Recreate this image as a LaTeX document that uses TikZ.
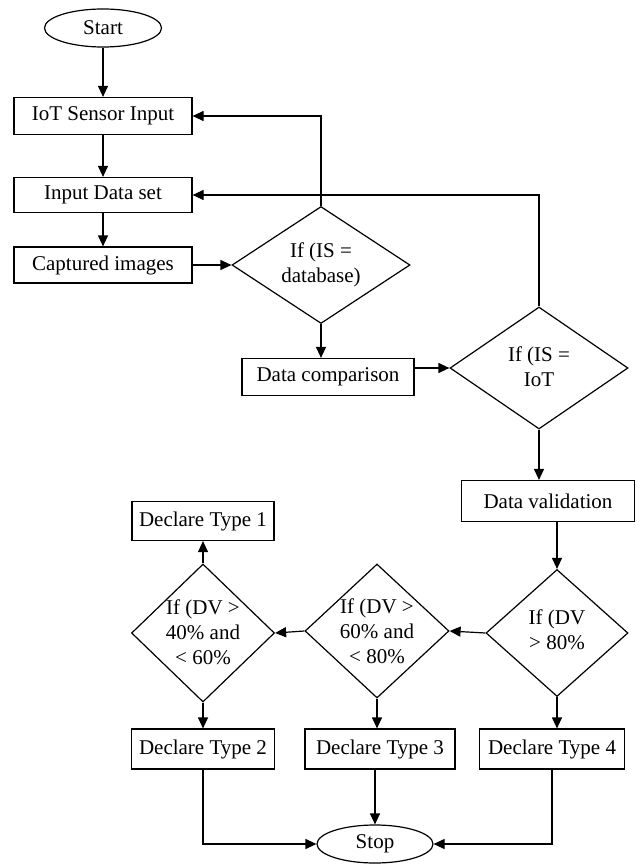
\documentclass[tikz,border=0pt]{standalone}
\usepackage{fontspec}
\setmainfont{Liberation Serif}
\usetikzlibrary{shapes.geometric,arrows.meta}
\begin{document}
\begin{tikzpicture}[x=1pt,y=-1pt,
  every node/.style={font=\fontsize{21}{25}\selectfont, inner sep=0pt},
  box/.style={draw, line width=1.2pt, rectangle, minimum width=#1},
  box/.default=178,
  term/.style={draw, line width=1.2pt, ellipse, minimum width=117, minimum height=38},
  decide/.style n args={2}{draw, line width=1.2pt, diamond, minimum width=#1, minimum height=#2},
  txt/.style={align=center},
  link/.style={line width=1.2pt, -{Triangle[length=11pt,width=10pt]}},
  line/.style={line width=1.2pt}
]
\useasboundingbox (0,0) rectangle (640,864);

% start and the input column
\node[term] (start) at (103,28) {Start};
\node[box, minimum height=37] (iot) at (103,116) {IoT Sensor Input};
\node[box, minimum height=35] (ids) at (103,195) {Input Data set};
\node[box, minimum height=36] (cap) at (103,265) {Captured images};

% first check and comparison
\node[decide={178}{117}] (d1) at (321,265) {};
\node[txt] (d1t) at (321,265) {If (IS =\\database)};
\node[box=172, minimum height=37] (dc) at (328,377) {Data comparison};

% second check and validation
\node[decide={178}{122}] (d2) at (539,368) {};
\node[txt] (d2t) at (539,367) {If (IS =\\IoT};
\node[box=173, minimum height=41] (dv) at (548,501) {Data validation};

% threshold checks
\node[decide={142}{127}] (dR) at (557,633) {};
\node[txt] (dRt) at (557,630) {If (DV\\> 80\%};
\node[decide={144}{134}] (dM) at (377,631) {};
\node[txt] (dMt) at (377,631) {If (DV >\\60\% and\\< 80\%};
\node[decide={143}{138}] (dL) at (203,633) {};
\node[txt] (dLt) at (203,632) {If (DV >\\40\% and\\< 60\%};

% outcomes
\node[box=142, minimum height=39] (t1) at (203,521) {Declare Type 1};
\node[box=143, minimum height=40] (t2) at (203,749) {Declare Type 2};
\node[box=150, minimum height=40] (t3) at (380,749) {Declare Type 3};
\node[box=145, minimum height=40] (t4) at (552,749) {Declare Type 4};
\node[term, minimum width=116] (stop) at (375,844) {Stop};

% main flow
\draw[link] (start) -- (iot);
\draw[link] (iot) -- (ids);
\draw[link] (ids) -- (cap);
\draw[link] (cap.east |- d1.west) -- (d1.west);
\draw[link] (d1.north) |- (iot.east);
\draw[link] (d2.north) |- (ids.east);
\draw[link] (d1.south) -- (d1.south |- dc.north);
\draw[link] (dc.east |- d2.west) -- (d2.west);
\draw[link] (d2.south) -- (d2.south |- dv.north);
\draw[link] (dR.north |- dv.south) -- (dR.north);
\draw[link] (dR.west) -- (dM.east);
\draw[link] (dM.west) -- (dL.east);
\draw[link] (dL.north) -- (t1.south);
\draw[link] (dL.south) -- (dL.south |- t2.north);
\draw[link] (dM.south) -- (dM.south |- t3.north);
\draw[link] (dR.south) -- (dR.south |- t4.north);
\draw[link] (t2.south) |- (stop.west);
\draw[link] (stop.north |- t3.south) -- (stop.north);
\draw[link] (t4.south) |- (stop.east);
\end{tikzpicture}
\end{document}
